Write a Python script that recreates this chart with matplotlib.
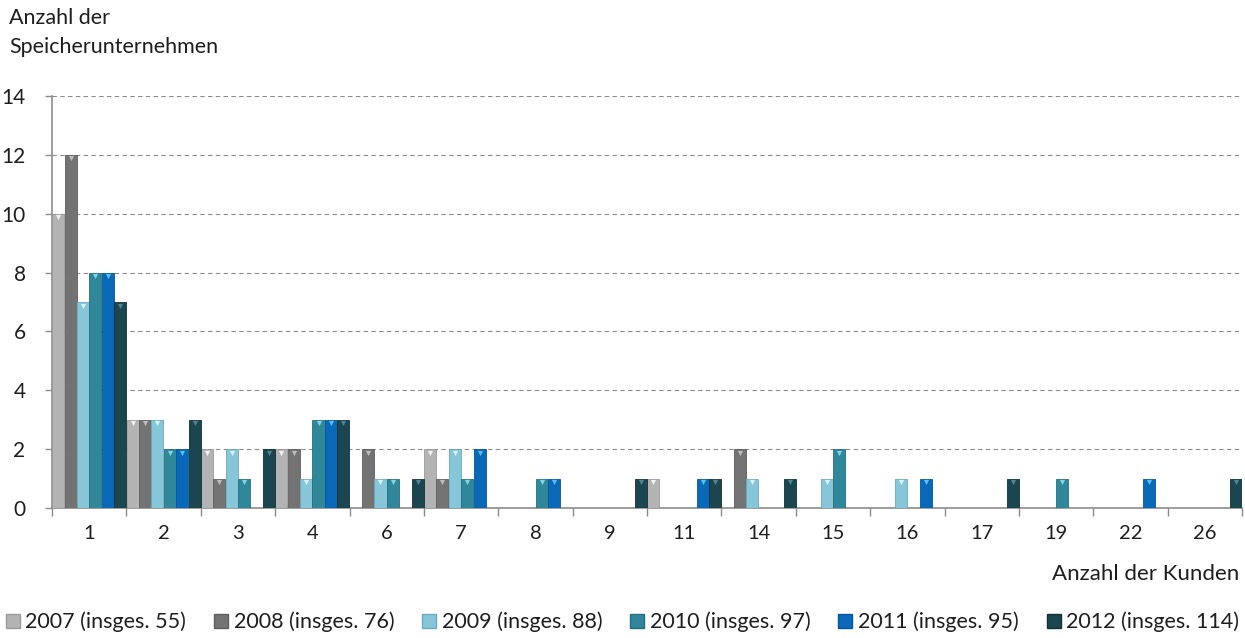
import matplotlib
matplotlib.use("Agg")
import matplotlib.pyplot as plt
import numpy as np
from matplotlib.patches import Patch

categories = ["1", "2", "3", "4", "6", "7", "8", "9", "11", "14", "15", "16", "17", "19", "22", "26"]
series_labels = ["2007 (insges. 55)", "2008 (insges. 76)", "2009 (insges. 88)",
                 "2010 (insges. 97)", "2011 (insges. 95)", "2012 (insges. 114)"]
v2007 = [10, 3, 2, 2, 0, 2, 0, 0, 1, 0, 0, 0, 0, 0, 0, 0]
v2008 = [12, 3, 1, 2, 2, 1, 0, 0, 0, 2, 0, 0, 0, 0, 0, 0]
v2009 = [7, 3, 2, 1, 1, 2, 0, 0, 0, 1, 1, 1, 0, 0, 0, 0]
v2010 = [8, 2, 1, 3, 1, 1, 1, 0, 0, 0, 2, 0, 0, 1, 0, 0]
v2011 = [8, 2, 0, 3, 0, 2, 1, 0, 1, 0, 0, 1, 0, 0, 1, 0]
v2012 = [7, 3, 2, 3, 1, 0, 0, 1, 1, 1, 0, 0, 1, 0, 0, 1]
series = [v2007, v2008, v2009, v2010, v2011, v2012]
colors = ["#b3b3b3", "#737373", "#86c6d8", "#2f8799", "#0a68b8", "#1b4650"]
edges = ["#9a9a9a", "#5e5e5e", "#6aaabd", "#246f7f", "#07559a", "#123238"]
tips = ["#f2f2f2", "#bdbdbd", "#d8f4fb", "#7fd6ea", "#55c0f5", "#4e8390"]

plt.rcParams['font.family'] = ['Lato', 'DejaVu Sans']
txt = "#1e1e1e"

fig = plt.figure(figsize=(12.45, 6.38), dpi=100)
ax = fig.add_axes([52/1245, 1-508/638, (1242-52)/1245, (508-96)/638])

n = len(categories)
x = np.arange(n)
w = 1.0 / 6.0 * 0.97
for i, vals in enumerate(series):
    pos = x - 0.5 + (i + 0.5) / 6.0
    ax.bar(pos, vals, width=w, color=colors[i], edgecolor=edges[i], linewidth=0.6, zorder=3)
    vals_arr = np.array(vals, dtype=float)
    mask = vals_arr > 0
    ax.scatter(pos[mask], vals_arr[mask] - 0.12, marker='v', s=14, color=tips[i],
               linewidths=0, zorder=4)

ax.set_xlim(-0.5, n - 0.5)
ax.set_ylim(0, 14)
ax.set_yticks(range(0, 15, 2))
ax.set_yticklabels([str(t) for t in range(0, 15, 2)], fontsize=15, color=txt)
ax.yaxis.grid(True, linestyle=(0, (4, 3)), color="#8c8c8c", linewidth=0.8, zorder=0)
ax.set_axisbelow(True)

ax.set_xticks(x)
ax.set_xticklabels(categories, fontsize=14.5, color=txt)
ax.tick_params(axis='x', length=0, pad=12)
ax.set_xticks(np.arange(n + 1) - 0.5, minor=True)
ax.tick_params(axis='x', which='minor', length=6, color="#8c8c8c", width=1)
ax.tick_params(axis='y', length=5, color="#8c8c8c", width=1, pad=14)

for s in ["top", "right"]:
    ax.spines[s].set_visible(False)
for s in ["left", "bottom"]:
    ax.spines[s].set_color("#8c8c8c")
    ax.spines[s].set_linewidth(1.2)

fig.text(9/1245, 1-18/638, "Anzahl der", fontsize=15.5, color=txt, va="center", ha="left")
fig.text(9/1245, 1-47/638, "Speicherunternehmen", fontsize=15.5, color=txt, va="center", ha="left")
fig.text(1239/1245, 1-574/638, "Anzahl der Kunden", fontsize=16, color=txt,
         va="center", ha="right")

handles = [Patch(facecolor=colors[i], edgecolor=edges[i], label=series_labels[i]) for i in range(6)]
fig.legend(handles=handles, loc="center", bbox_to_anchor=(0.5, 1-622/638), ncol=6,
           frameon=False, fontsize=15.5, handlelength=0.65, handleheight=0.65,
           handletextpad=0.25, columnspacing=1.3, labelcolor=txt)

fig.savefig("out.png", dpi=100)
